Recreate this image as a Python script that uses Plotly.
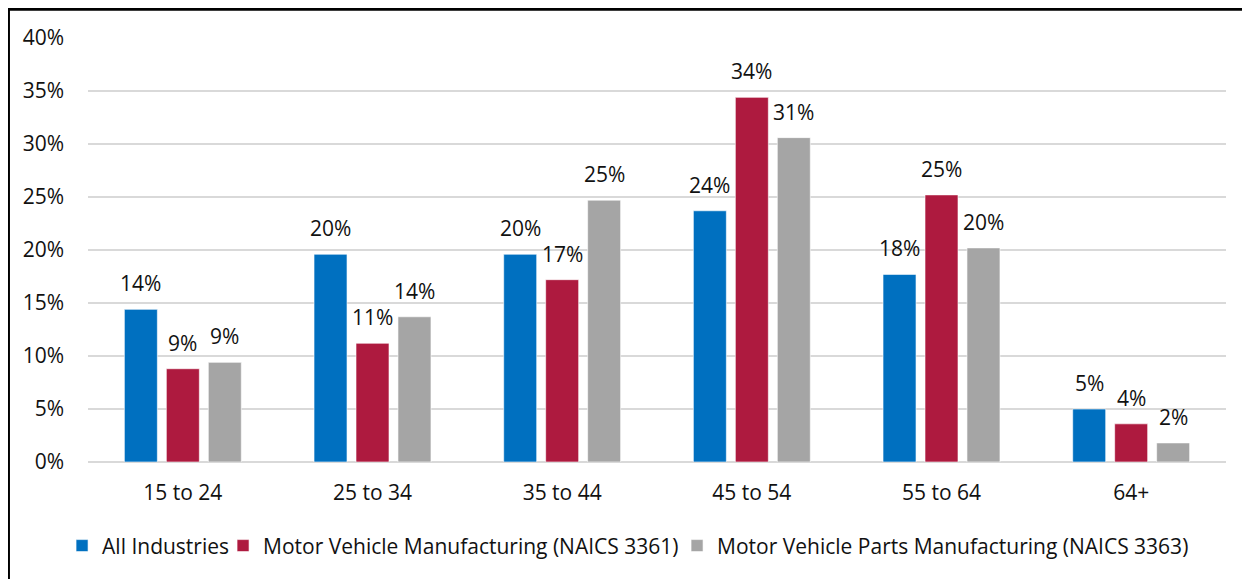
import plotly.graph_objects as go

# age groups on the x axis
age_groups = ["15 to 24", "25 to 34", "35 to 44", "45 to 54", "55 to 64", "64+"]

# share of employment by age group (fractions)
all_industries = [0.144, 0.196, 0.196, 0.237, 0.177, 0.050]
motor_vehicle_mfg = [0.088, 0.112, 0.172, 0.344, 0.252, 0.036]
motor_vehicle_parts_mfg = [0.094, 0.137, 0.247, 0.306, 0.202, 0.018]

series_names = [
    "All Industries",
    "Motor Vehicle Manufacturing (NAICS 3361)",
    "Motor Vehicle Parts Manufacturing (NAICS 3363)",
]
series_values = [all_industries, motor_vehicle_mfg, motor_vehicle_parts_mfg]
colors = ["#0070C0", "#AE1A3F", "#A5A5A5"]
# tighter legend entries than plotly's default spacing
legend_widths = [116, 409, 480]

FONT = "Open Sans"
FONT_SIZE = 21
TEXT_COLOR = "#111111"

fig = go.Figure()

for name, values, color, lw in zip(series_names, series_values, colors, legend_widths):
    fig.add_trace(go.Bar(
        x=age_groups,
        y=values,
        name=name,
        legendwidth=lw,
        marker=dict(color=color, line=dict(color="rgba(255,255,255,0.6)", width=1)),
    ))

# value labels above bars, shifted sideways to sit over each bar in the group
slot_px = 42
for i, values in enumerate(series_values):
    for cat, v in zip(age_groups, values):
        fig.add_annotation(
            x=cat, y=v,
            text=f"{round(v * 100)}%",
            showarrow=False,
            xanchor="center", yanchor="bottom",
            xshift=(i - 1) * slot_px, yshift=10,
            font=dict(family=FONT, size=FONT_SIZE, color=TEXT_COLOR),
        )

# border round the chart (left and top edges show in the reference)
fig.add_shape(
    type="rect", xref="paper", yref="paper",
    x0=-0.0699, x1=1.05, y0=1.068, y1=-0.35,
    line=dict(color="black", width=3),
)

# page body has an 8px margin, so the figure is 8px smaller each way
fig.update_layout(
    width=1242, height=571,
    margin=dict(l=80, r=24, t=30, b=117, autoexpand=False),
    paper_bgcolor="white",
    plot_bgcolor="white",
    barmode="group",
    bargap=0.336,
    bargroupgap=0.214,
    font=dict(family=FONT, size=FONT_SIZE, color=TEXT_COLOR),
    showlegend=True,
    legend=dict(
        orientation="h",
        x=-0.0228, xanchor="left",
        y=-0.198, yanchor="middle",
        font=dict(family=FONT, size=FONT_SIZE, color=TEXT_COLOR),
        itemwidth=30,
    ),
    xaxis=dict(
        showgrid=False,
        showline=False,
        ticks="",
        ticklabelstandoff=16,
        tickfont=dict(family=FONT, size=FONT_SIZE, color=TEXT_COLOR),
    ),
    yaxis=dict(
        range=[0, 0.40],
        dtick=0.05,
        tickformat=".0%",
        showgrid=True,
        gridcolor="#D9D9D9",
        gridwidth=1.5,
        zeroline=True,
        zerolinecolor="#D9D9D9",
        zerolinewidth=2,
        ticks="",
        ticklabelstandoff=23,
        tickfont=dict(family=FONT, size=FONT_SIZE, color=TEXT_COLOR),
    ),
)

fig.write_html("out.html")
